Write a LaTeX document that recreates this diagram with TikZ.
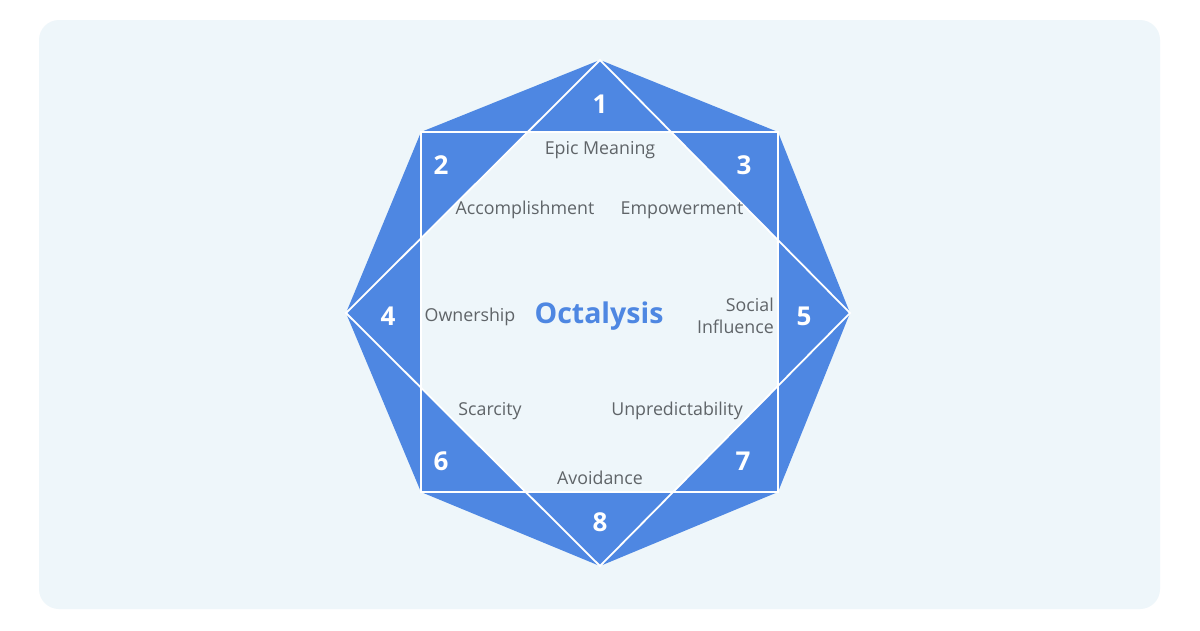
\documentclass[tikz,border=0pt]{standalone}
\usepackage{fontspec}
\setmainfont{Open Sans}
\definecolor{bgpanel}{HTML}{EEF6FA}
\definecolor{octblue}{HTML}{4E87E2}
\definecolor{labelgray}{HTML}{5F6468}
\begin{document}
\begin{tikzpicture}[x=1pt,y=-1pt,
  lbl/.style={text=labelgray,font=\fontsize{17.8}{20}\selectfont,inner sep=0pt},
  num/.style={text=white,font=\fontsize{26}{28}\selectfont\bfseries,inner sep=0pt},
  wline/.style={draw=white,line width=1.8pt,line join=miter}]
\useasboundingbox (0,0) rectangle (1200,630);
\fill[white] (0,0) rectangle (1200,630);
\fill[bgpanel,rounded corners=20pt] (39,20) rectangle (1160,609);
% vertices
\coordinate (T) at (600,60);
\coordinate (R) at (850,313);
\coordinate (B) at (600,566);
\coordinate (L) at (346,313);
\coordinate (UL) at (421,132);
\coordinate (UR) at (778,132);
\coordinate (LR) at (778,492);
\coordinate (LL) at (421,492);
% blue hull
\fill[octblue] (T) -- (UR) -- (R) -- (LR) -- (B) -- (LL) -- (L) -- (UL) -- cycle;
% inner octagon = square intersect diamond
\begin{scope}
  \clip (UL) rectangle (LR);
  \fill[bgpanel] (T) -- (R) -- (B) -- (L) -- cycle;
\end{scope}
% white outlines
\draw[wline] (T) -- (R) -- (B) -- (L) -- cycle;
\draw[wline] (UL) -- (UR) -- (LR) -- (LL) -- cycle;
% numbers
\node[num] (n1) at (600,104) {1};
\node[num] (n2) at (441,165) {2};
\node[num] (n3) at (744,165) {3};
\node[num] (n4) at (388,316) {4};
\node[num] (n5) at (804,316) {5};
\node[num] (n6) at (441,461) {6};
\node[num] (n7) at (743,461) {7};
\node[num] (n8) at (600,522) {8};
% labels
\node[lbl] (l1) at (600,150) {Epic Meaning};
\node[lbl] (l2) at (525,210) {Accomplishment};
\node[lbl] (l3) at (682,210) {Empowerment};
\node[lbl] (l4) at (470,317) {Ownership};
\node[lbl,align=right,anchor=east,font=\fontsize{17.8}{22}\selectfont] (l5) at (774,316) {Social\\Influence};
\node[lbl] (l6) at (490,411) {Scarcity};
\node[lbl] (l7) at (677,411) {Unpredictability};
\node[lbl] (l8) at (600,478) {Avoidance};
\node[text=octblue,font=\fontsize{28.5}{30}\selectfont\bfseries,inner sep=0pt] (ctr) at (599,316) {Octalysis};
\end{tikzpicture}
\end{document}
